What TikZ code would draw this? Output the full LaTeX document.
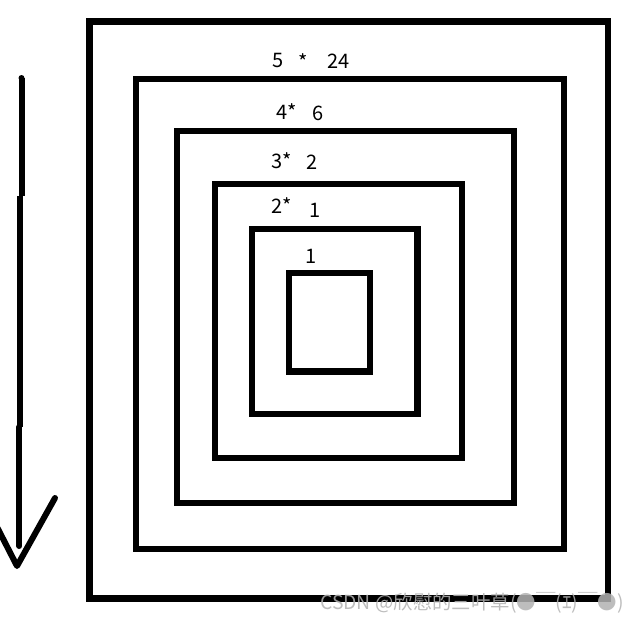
\documentclass[tikz,border=0pt]{standalone}
\usepackage{fontspec}
\setmainfont{Noto Sans CJK SC}
\newfontfamily\cjk{Noto Sans CJK SC}
\begin{document}
\begin{tikzpicture}[x=1pt,y=-1pt,
  frame/.style={draw=black,line width=6.3pt,line join=miter},
  stroke/.style={draw=black,line width=6pt,line cap=round,line join=round},
  lbl/.style={inner sep=0pt,anchor=base,font=\fontsize{20}{20}\selectfont,text=black},
  wm/.style={inner sep=0pt,anchor=base west,font=\cjk\fontsize{19.4}{19.4}\selectfont,text=black!30,opacity=0.85}]
\useasboundingbox (0,0) rectangle (638,622);
\fill[white] (0,0) rectangle (638,622);
% nested squares
\draw[frame] (89.5,21.5) rectangle (608,598.5);
\draw[frame] (136.3,79) rectangle (563.7,548.7);
\draw[frame] (177,131) rectangle (514,503.3);
\draw[frame] (214.7,183.7) rectangle (462,458);
\draw[frame] (252,229) rectangle (417.5,414);
\draw[frame] (288.7,273) rectangle (369.7,371.5);
% labels
\node[lbl] (l5a) at (278,67) {5};
\node[lbl] (l5b) at (303,69) {*};
\node[lbl] (l5c) at (338.5,68) {24};
\node[lbl] (l4a) at (286.5,119) {4*};
\node[lbl] (l4b) at (318.5,120) {6};
\node[lbl] (l3a) at (281.5,168) {3*};
\node[lbl] (l3b) at (312,169) {2};
\node[lbl] (l2a) at (281.5,213) {2*};
\node[lbl] (l2b) at (315,217) {1};
\node[lbl] (l1) at (311.5,263) {1};
% arrow
\coordinate (a0) at (21.5,78);
\coordinate (a1) at (21.5,196);
\coordinate (a2) at (20,196);
\coordinate (a3) at (20,427);
\coordinate (a4) at (19.3,427);
\coordinate (a5) at (19.3,546);
\coordinate (tip) at (17,566);
\coordinate (rarm) at (55,498);
\coordinate (larm) at (-3,527);
\draw[stroke,line cap=butt] (a0) -- (a1);
\draw[stroke,line cap=butt] (a2) -- (a3);
\draw[stroke] (a4) -- (a5);
\draw[stroke] (rarm) -- (tip) -- (larm);
\fill[black] (a0) circle (3pt);
% watermark
\node[wm] (wmark) at (320,609) {CSDN @欣慰的三叶草(●￣(ｴ)￣●)};
\end{tikzpicture}
\end{document}
